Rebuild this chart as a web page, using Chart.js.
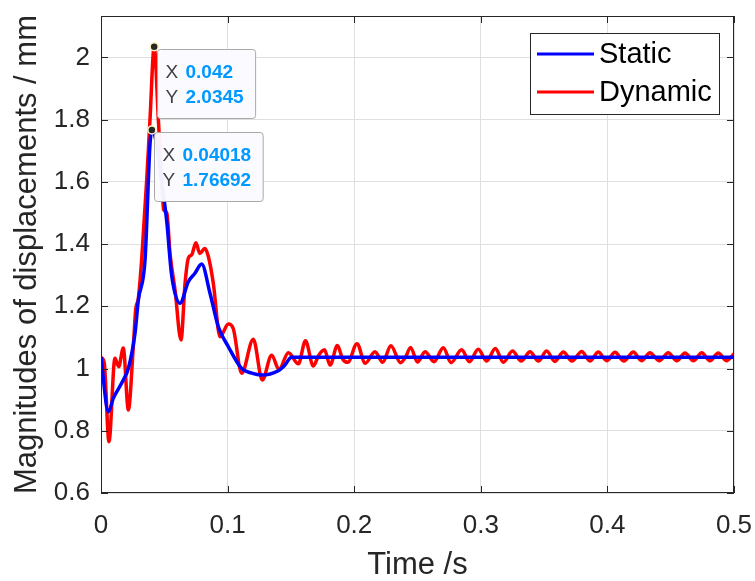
<!DOCTYPE html>
<html>
<head>
<meta charset="utf-8">
<script src="https://cdn.jsdelivr.net/npm/chart.js@4"></script>
<style>
  html, body { margin: 0; padding: 0; background: #fff; }
  canvas { display: block; }
</style>
</head>
<body>
<canvas id="chart" width="755" height="581"></canvas>
<script>
// time (s) and displacement magnitude (mm) of the static solution
const staticT = [0, 0.0058, 0.0097, 0.0176, 0.0216, 0.0269, 0.0295, 0.0348, 0.0387, 0.04018,
    0.044, 0.048, 0.052, 0.0558, 0.0624, 0.069, 0.0742, 0.0795, 0.0861, 0.0927,
    0.1006, 0.1111, 0.119, 0.127, 0.14, 0.145, 0.1506, 0.2, 0.3, 0.4, 0.5];
const staticV = [1.036, 0.861, 0.904, 0.963, 1.0, 1.114, 1.22, 1.35, 1.72, 1.76692,
    1.72, 1.6, 1.47, 1.3, 1.21, 1.279, 1.306, 1.336, 1.242, 1.134,
    1.07, 1.0, 0.985, 0.979, 0.993, 1.01, 1.036, 1.036, 1.036, 1.036, 1.036];

// dynamic solution, same units
const dynamicT = [0, 0.0025, 0.0063, 0.011, 0.014, 0.0176, 0.0216, 0.0255, 0.0274, 0.0295,
    0.0321, 0.0361, 0.0387, 0.042, 0.0453, 0.048, 0.0495, 0.052, 0.0545, 0.0585,
    0.0632, 0.0664, 0.069, 0.0716, 0.075, 0.078, 0.082, 0.0848, 0.0887, 0.094,
    0.1006, 0.1045, 0.1111, 0.1203, 0.1274, 0.1348, 0.1406, 0.148, 0.1559, 0.1615,
    0.1677, 0.172, 0.1765, 0.181, 0.1867, 0.191, 0.195, 0.2022, 0.2087, 0.2164,
    0.2225, 0.229, 0.2365, 0.2405, 0.2445, 0.25, 0.256, 0.263, 0.2704, 0.2765,
    0.2849, 0.291, 0.298, 0.3047, 0.3115, 0.3178, 0.325, 0.332, 0.3389, 0.3455,
    0.352, 0.3585, 0.3652, 0.372, 0.3797, 0.3862, 0.3928, 0.3995, 0.406, 0.413,
    0.4205, 0.427, 0.4336, 0.441, 0.4481, 0.4548, 0.4613, 0.468, 0.4745, 0.481,
    0.4876, 0.494, 0.5];
const dynamicV = [1.036, 1.02, 0.765, 1.033, 1.006, 1.066, 0.867, 1.07, 1.19, 1.226,
    1.349, 1.606, 1.8, 2.0345, 1.8, 1.606, 1.51, 1.5, 1.37, 1.252,
    1.092, 1.274, 1.355, 1.365, 1.404, 1.37, 1.386, 1.36, 1.274, 1.102,
    1.143, 1.128, 0.985, 1.094, 0.963, 1.043, 0.997, 1.051, 1.015, 1.089,
    1.008, 1.043, 1.06, 1.011, 1.074, 1.03, 1.02, 1.08, 1.017, 1.054,
    1.02, 1.073, 1.019, 1.036, 1.068, 1.021, 1.054, 1.022, 1.067, 1.019,
    1.06, 1.022, 1.062, 1.024, 1.064, 1.02, 1.056, 1.024, 1.054, 1.024,
    1.056, 1.023, 1.053, 1.024, 1.055, 1.024, 1.053, 1.025, 1.052, 1.024,
    1.053, 1.025, 1.051, 1.025, 1.051, 1.025, 1.05, 1.025, 1.051, 1.025,
    1.05, 1.025, 1.047];

const seriesNames = ["Static", "Dynamic"];
const seriesColors = ["#0000ff", "#ff0000"];
const xTicks = [0, 0.1, 0.2, 0.3, 0.4, 0.5];
const yTicks = [0.6, 0.8, 1, 1.2, 1.4, 1.6, 1.8, 2];

// data tips (peak of each curve)
const tipX = [0.042, 0.04018];
const tipY = [2.0345, 1.76692];

const INK = "#262626";
const FONT = "'Liberation Sans', Arial, sans-serif";

function toPoints(ts, vs) {
    return ts.map((t, i) => ({ x: t, y: vs[i] }));
}

// axes box + inward tick marks on all four sides
const axesBox = {
    id: "axesBox",
    afterDatasetsDraw(chart) {
        const { ctx, chartArea: a, scales: { x, y } } = chart;
        const len = 7;
        ctx.save();
        ctx.strokeStyle = INK;
        ctx.lineWidth = 1;
        ctx.strokeRect(Math.round(a.left) + 0.5, Math.round(a.top) + 0.5,
            Math.round(a.width) - 1, Math.round(a.height) - 1);
        ctx.beginPath();
        xTicks.forEach(v => {
            const px = Math.round(x.getPixelForValue(v)) + 0.5;
            ctx.moveTo(px, a.bottom); ctx.lineTo(px, a.bottom - len);
            ctx.moveTo(px, a.top); ctx.lineTo(px, a.top + len);
        });
        yTicks.forEach(v => {
            const py = Math.round(y.getPixelForValue(v)) + 0.5;
            ctx.moveTo(a.left, py); ctx.lineTo(a.left + len, py);
            ctx.moveTo(a.right, py); ctx.lineTo(a.right - len, py);
        });
        ctx.stroke();
        ctx.restore();
    }
};

// data tip boxes with X / Y readout and the marked point
const dataTips = {
    id: "dataTips",
    afterDatasetsDraw(chart) {
        const { ctx, scales: { x, y } } = chart;
        ctx.save();
        tipX.forEach((tx, i) => {
            const px = x.getPixelForValue(tx);
            const py = y.getPixelForValue(tipY[i]);
            const xs = String(tx), ys = String(tipY[i]);
            ctx.font = "bold 19px " + FONT;
            const w = 28 + Math.max(ctx.measureText(xs).width, ctx.measureText(ys).width) + 12;
            const h = 69;
            const bx = Math.round(px + 2.5) + 0.5, by = Math.round(py + 2.5) + 0.5;

            ctx.beginPath();
            ctx.roundRect(bx, by, w, h, 3);
            ctx.fillStyle = "rgba(250,250,255,0.96)";
            ctx.fill();
            ctx.strokeStyle = "#a8a8a8";
            ctx.lineWidth = 1;
            ctx.stroke();

            ctx.textBaseline = "middle";
            ctx.textAlign = "left";
            ctx.font = "19px " + FONT;
            ctx.fillStyle = "#404040";
            ctx.fillText("X", bx + 8, by + 23);
            ctx.fillText("Y", bx + 8, by + 48);
            ctx.font = "bold 19px " + FONT;
            ctx.fillStyle = "#0099ff";
            ctx.fillText(xs, bx + 28, by + 23);
            ctx.fillText(ys, bx + 28, by + 48);
        });
        tipX.forEach((tx, i) => {
            const px = x.getPixelForValue(tx);
            const py = y.getPixelForValue(tipY[i]);
            ctx.beginPath();
            ctx.arc(px, py, 4, 0, Math.PI * 2);
            ctx.fillStyle = INK;
            ctx.fill();
            ctx.lineWidth = 1.5;
            ctx.strokeStyle = "#fff6c4";
            ctx.stroke();
        });
        ctx.restore();
    }
};

// legend box in the upper right corner of the axes
const boxLegend = {
    id: "boxLegend",
    afterDraw(chart) {
        const { ctx, chartArea: a } = chart;
        const right = a.right - 15, top = a.top + 17;
        const w = 189, h = 81;
        const left = right - w;
        ctx.save();
        ctx.fillStyle = "#fff";
        ctx.fillRect(left, top, w, h);
        ctx.strokeStyle = INK;
        ctx.lineWidth = 1;
        ctx.strokeRect(Math.round(left) + 0.5, Math.round(top) + 0.5, w, h);
        ctx.font = "29px " + FONT;
        ctx.textBaseline = "middle";
        seriesNames.forEach((name, i) => {
            const ly = top + 21 + i * 38;
            ctx.strokeStyle = seriesColors[i];
            ctx.lineWidth = 3;
            ctx.beginPath();
            ctx.moveTo(left + 7, ly);
            ctx.lineTo(left + 64, ly);
            ctx.stroke();
            ctx.fillStyle = "#000";
            ctx.fillText(name, left + 69, ly + 1);
        });
        ctx.restore();
    }
};

new Chart(document.getElementById("chart"), {
    type: "line",
    data: {
        datasets: [
            {
                label: seriesNames[0],
                data: toPoints(staticT, staticV),
                borderColor: seriesColors[0],
                borderWidth: 3.5,
                pointRadius: 0,
                cubicInterpolationMode: "monotone"
            },
            {
                label: seriesNames[1],
                data: toPoints(dynamicT, dynamicV),
                borderColor: seriesColors[1],
                borderWidth: 3.5,
                pointRadius: 0,
                cubicInterpolationMode: "monotone"
            }
        ]
    },
    options: {
        responsive: false,
        animation: false,
        devicePixelRatio: 1,
        layout: { padding: { top: 16, right: 21, left: 0, bottom: 0 } },
        plugins: {
            legend: { display: false },
            tooltip: { enabled: false }
        },
        scales: {
            x: {
                type: "linear",
                min: 0,
                max: 0.5,
                afterBuildTicks: s => { s.ticks = xTicks.map(v => ({ value: v })); },
                afterFit: s => { s.height = 88; s.paddingLeft = 0; s.paddingRight = 0; },
                border: { display: false },
                grid: { color: "#dfdfdf", lineWidth: 1, drawTicks: false },
                ticks: {
                    callback: v => String(v),
                    color: INK,
                    font: { family: FONT, size: 26 },
                    padding: 17,
                    maxRotation: 0
                },
                title: {
                    display: true,
                    text: "Time /s",
                    color: INK,
                    font: { family: FONT, size: 31, lineHeight: 1 },
                    padding: { top: 0, bottom: 0 }
                }
            },
            y: {
                type: "linear",
                min: 0.6,
                max: 2.133,
                afterBuildTicks: s => { s.ticks = yTicks.map(v => ({ value: v })); },
                afterFit: s => { s.width = 101; s.paddingTop = 0; s.paddingBottom = 0; },
                border: { display: false },
                grid: { color: "#dfdfdf", lineWidth: 1, drawTicks: false },
                ticks: {
                    callback: v => String(v),
                    color: INK,
                    font: { family: FONT, size: 26 },
                    padding: 11
                },
                title: {
                    display: true,
                    text: "Magnitudes of displacements / mm",
                    color: INK,
                    font: { family: FONT, size: 31, lineHeight: 1 },
                    padding: { top: 12, bottom: 0 }
                }
            }
        }
    },
    plugins: [axesBox, dataTips, boxLegend]
});
</script>
</body>
</html>
